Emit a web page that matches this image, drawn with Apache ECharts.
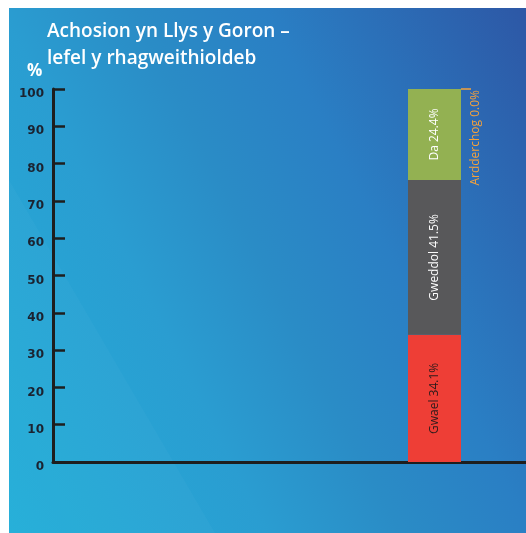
<!DOCTYPE html>
<html>
<head>
<meta charset="utf-8">
<script src="https://cdn.jsdelivr.net/npm/echarts@6/dist/echarts.min.js"></script>
<style>
  html, body { margin: 0; padding: 0; background: #ffffff; }
  #chart { position: absolute; left: 9px; top: 8px; width: 517px; height: 525px; }
</style>
</head>
<body>
<div id="chart"></div>
<script>
// data
var categories = ['Llys y Goron'];
var seriesNames = ['Gwael', 'Gweddol', 'Da', 'Ardderchog'];
var seriesValues = [[34.1], [41.5], [24.4], [0.0]];
var seriesColors = ['#ee3e36', '#58585a', '#93b152', '#f6a23a'];
var labelColors = ['#2b1b1b', '#ffffff', '#ffffff', '#f6a23a'];
var yTicks = [0, 100, 10]; // min, max, interval

var chart = echarts.init(document.getElementById('chart'));

var series = seriesNames.map(function (name, i) {
  var s = {
    name: name,
    type: 'bar',
    stack: 'total',
    xAxisIndex: 1,
    yAxisIndex: 1,
    barWidth: '100%',
    itemStyle: { color: seriesColors[i] },
    data: seriesValues[i],
    label: {
      show: true,
      position: 'inside',
      rotate: 90,
      color: labelColors[i],
      fontFamily: 'Open Sans',
      fontSize: 12,
      formatter: function (p) { return p.seriesName + ' ' + p.value.toFixed(1) + '%'; }
    }
  };
  if (i === seriesNames.length - 1) {
    // zero segment: label sits outside to the right
    s.label.position = [68, 1];
    s.label.align = 'right';
    s.label.verticalAlign = 'middle';
  }
  return s;
});

var option = {
  backgroundColor: new echarts.graphic.LinearGradient(0, 1, 1.2, 0.4, [
    { offset: 0, color: '#22afd9' },
    { offset: 0.33, color: '#2a9dd1' },
    { offset: 0.5, color: '#2a8cc6' },
    { offset: 0.67, color: '#2a7fc4' },
    { offset: 1, color: '#2d58a6' }
  ]),
  animation: false,
  title: {
    text: 'Achosion yn Llys y Goron –\nlefel y rhagweithioldeb',
    left: 38,
    top: 10,
    padding: 0,
    textStyle: {
      color: '#ffffff',
      fontFamily: 'Open Sans',
      fontWeight: 600,
      fontSize: 19,
      lineHeight: 27
    }
  },
  graphic: [
    {
      type: 'polygon',
      silent: true,
      z: -1,
      shape: { points: [[0, 172], [0, 525], [206, 525]] },
      style: { fill: 'rgba(255,255,255,0.025)' }
    },
    {
      type: 'text',
      left: 18,
      top: 55,
      style: { text: '%', fill: '#ffffff', font: 'bold 17px "Open Sans"' }
    },
    {
      type: 'line',
      z: 10,
      shape: { x1: 452, y1: 81, x2: 462, y2: 81 },
      style: { stroke: '#f6a23a', lineWidth: 1.5 }
    }
  ],
  grid: [
    { left: 44, right: 0, top: 81, bottom: 71 },
    { left: 399, width: 53, top: 81, bottom: 71 }
  ],
  xAxis: [
    {
      gridIndex: 0,
      type: 'category',
      data: [''],
      axisLine: { show: true, lineStyle: { color: '#1e1e1e', width: 3 } },
      axisTick: { show: false },
      axisLabel: { show: false }
    },
    {
      gridIndex: 1,
      type: 'category',
      data: categories,
      show: false
    }
  ],
  yAxis: [
    {
      gridIndex: 0,
      type: 'value',
      min: yTicks[0],
      max: yTicks[1],
      interval: yTicks[2],
      axisLine: { show: true, lineStyle: { color: '#1e1e1e', width: 3 } },
      axisTick: { show: true, inside: true, length: 12, lineStyle: { color: '#1e1e1e', width: 2.5 } },
      splitLine: { show: false },
      axisLabel: {
        color: '#1b2230',
        fontFamily: 'DejaVu Sans',
        fontWeight: 'bold',
        fontSize: 12,
        lineHeight: 10,
        margin: 9,
        verticalAlign: 'top'
      }
    },
    {
      gridIndex: 1,
      type: 'value',
      min: yTicks[0],
      max: yTicks[1],
      show: false
    }
  ],
  series: series
};

chart.setOption(option);
</script>
</body>
</html>
